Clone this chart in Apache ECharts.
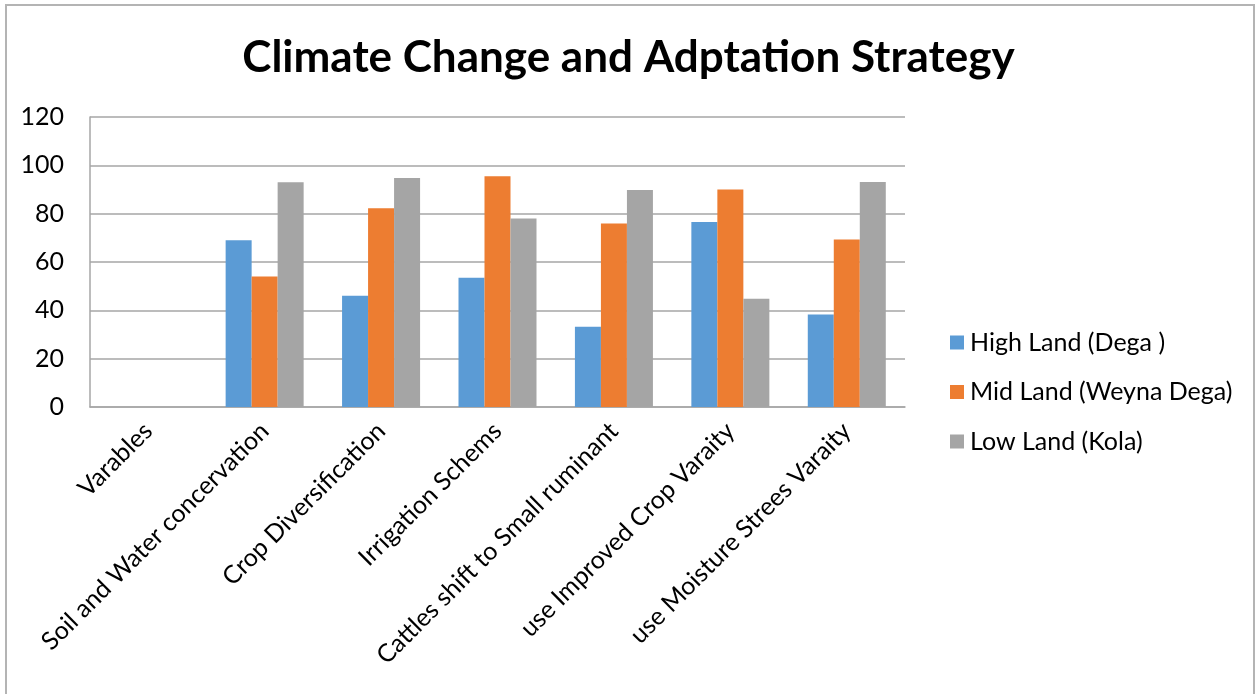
<!DOCTYPE html>
<html>
<head>
<meta charset="utf-8">
<script src="https://cdn.jsdelivr.net/npm/echarts@6/dist/echarts.min.js"></script>
<style>
  html, body { margin: 0; padding: 0; background: #ffffff; }
  #chart { width: 1257px; height: 694px; }
</style>
</head>
<body>
<div id="chart"></div>
<script>
// Adaptation strategies by agro-ecological zone
const categories = [
  'Varables',
  'Soil and Water concervation',
  'Crop Diversification',
  'Irrigation Schems',
  'Cattles shift to Small ruminant',
  'use Improved Crop Varaity',
  'use Moisture Strees Varaity'
];
const highLand = [null, 69, 46, 53.5, 33.2, 76.6, 38.3];
const midLand  = [null, 54, 82.2, 95.5, 75.9, 90, 69.3];
const lowLand  = [null, 93, 94.8, 78, 89.8, 44.8, 93.1];
const seriesNames = ['High Land (Dega )', 'Mid Land (Weyna Dega)', 'Low Land (Kola)'];
const yTicks = { min: 0, max: 120, interval: 20 };

const FONT = 'Lato, "Open Sans", sans-serif';
const colors = ['#5B9BD5', '#ED7D31', '#A5A5A5'];

const chart = echarts.init(document.getElementById('chart'), null, { renderer: 'canvas' });

chart.setOption({
  animation: false,
  color: colors,
  textStyle: { fontFamily: FONT },
  title: {
    text: 'Climate Change and Adptation Strategy',
    left: 'center',
    top: 31,
    textStyle: { fontFamily: FONT, fontWeight: 'bold', fontSize: 44, color: '#000000' }
  },
  graphic: [{
    type: 'rect',
    shape: { x: 6, y: 5, width: 1248, height: 700 },
    style: { fill: 'none', stroke: '#b4b4b4', lineWidth: 2 },
    silent: true
  }],
  grid: { left: 90, right: 352, top: 117, bottom: 287, containLabel: false },
  legend: {
    orient: 'vertical',
    left: 945,
    top: 325,
    itemWidth: 14,
    itemHeight: 14,
    itemGap: 24.5,
    icon: 'rect',
    textStyle: { fontFamily: FONT, fontSize: 25, color: '#000000', padding: [0, 0, 0, 1] },
    data: seriesNames
  },
  xAxis: {
    type: 'category',
    data: categories,
    axisLine: { show: true, lineStyle: { color: '#a6a6a6', width: 1.5 } },
    axisTick: { show: false },
    axisLabel: {
      rotate: 45,
      interval: 0,
      margin: 20,
      fontFamily: FONT,
      fontSize: 25,
      color: '#000000'
    }
  },
  yAxis: {
    type: 'value',
    min: yTicks.min,
    max: yTicks.max,
    interval: yTicks.interval,
    axisLine: { show: true, lineStyle: { color: '#a6a6a6', width: 1.5 } },
    axisTick: { show: false },
    splitLine: { show: true, lineStyle: { color: '#a6a6a6', width: 1.5 } },
    axisLabel: { margin: 26, fontFamily: FONT, fontSize: 25, color: '#000000' }
  },
  series: [
    { name: seriesNames[0], type: 'bar', data: highLand, barGap: '0%', barCategoryGap: '33%' },
    { name: seriesNames[1], type: 'bar', data: midLand, barGap: '0%', barCategoryGap: '33%' },
    { name: seriesNames[2], type: 'bar', data: lowLand, barGap: '0%', barCategoryGap: '33%' }
  ]
});
</script>
</body>
</html>
